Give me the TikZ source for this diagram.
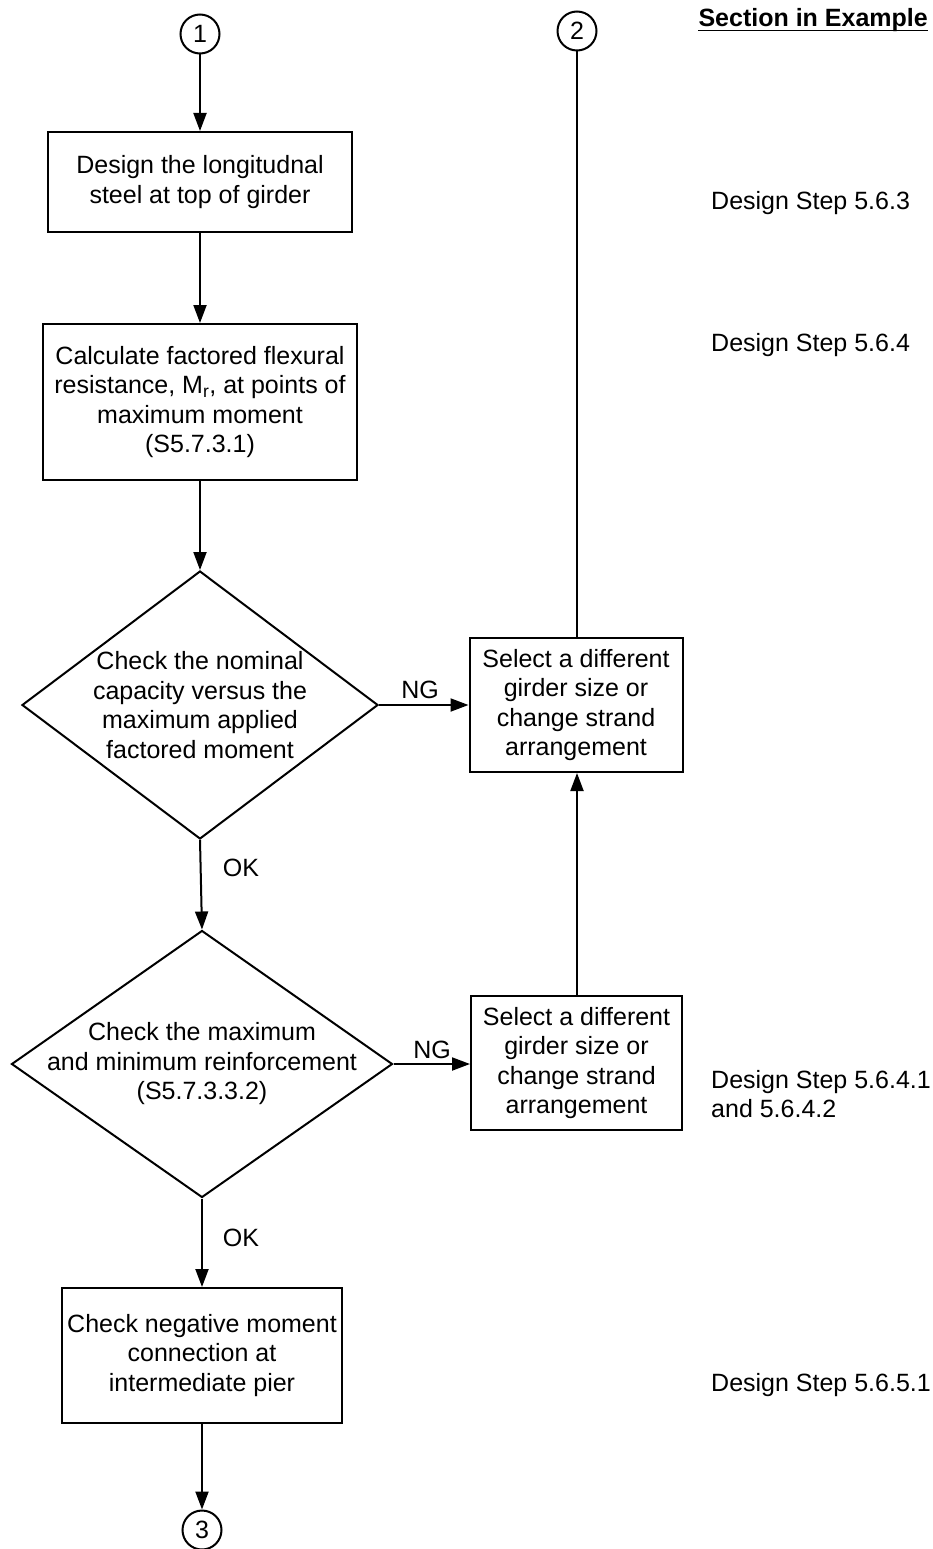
\documentclass[tikz,border=0pt]{standalone}
\usepackage{fontspec}
\setmainfont{Liberation Sans}
\usetikzlibrary{shapes.geometric,arrows.meta}
\begin{document}
\begin{tikzpicture}[x=1pt,y=-1pt,
  every node/.style={font=\fontsize{25}{29.5}\selectfont},
  box/.style={draw, line width=2pt, inner sep=0pt, align=center},
  dia/.style={draw, diamond, line width=2pt, inner sep=0pt},
  conn/.style={draw, circle, line width=2pt, inner sep=0pt, minimum size=39pt},
  arr/.style={line width=2pt, -{Triangle[width=13pt,length=18pt]}},
  lbl/.style={inner sep=0pt},
  side/.style={anchor=west, inner sep=0pt, align=left}]
\useasboundingbox (0,0) rectangle (933,1549);

\node[conn] (c1) at (200,34) {1};
\node[conn] (c2) at (577,31) {2};
\node[conn] (c3) at (202,1530) {3};

\node[box, minimum width=304pt, minimum height=100pt] (b1) at (200,182)
  {Design the longitudnal\\steel at top of girder};
\node[box, minimum width=314pt, minimum height=156pt] (b2) at (200,402)
  {Calculate factored flexural\\resistance, M\textsubscript{r}, at points of\\maximum moment\\(S5.7.3.1)};
\node[dia, minimum width=356pt, minimum height=268pt] (d1) at (200,705) {};
\node[lbl, align=center] (d1t) at (d1.center)
  {Check the nominal\\capacity versus the\\maximum applied\\factored moment};
\node[dia, minimum width=381pt, minimum height=267pt] (d2) at (202,1064) {};
\node[lbl, align=center] (d2t) at (d2.center)
  {Check the maximum\\and minimum reinforcement\\(S5.7.3.3.2)};
\node[box, minimum width=280pt, minimum height=135pt] (b5) at (202,1355.5)
  {Check negative moment\\connection at\\intermediate pier};
\node[box, minimum width=213pt, minimum height=134pt] (n1) at (576,705)
  {Select a different\\girder size or\\change strand\\arrangement};
\node[box, minimum width=211pt, minimum height=134pt] (n2) at (576.5,1063)
  {Select a different\\girder size or\\change strand\\arrangement};

\draw[arr] (c1) -- (b1);
\draw[arr] (b1) -- (b2);
\draw[arr] (b2) -- (d1.north);
\draw[arr] (d1.south) -- (d2.north);
\draw[arr] (d2.south) -- (b5);
\draw[arr] (b5) -- (c3);
\draw[arr] (d1.east) -- (n1.west |- d1.east);
\draw[arr] (d2.east) -- (n2.west |- d2.east);
\draw[arr] (n2.north -| c2.south) -- (n1.south -| c2.south);
\draw[line width=2pt] (n1.north -| c2.south) -- (c2.south);

\node[lbl] (ng1) at (420,690) {NG};
\node[lbl] (ng2) at (432,1050) {NG};
\node[lbl] (ok1) at (241,868) {OK};
\node[lbl] (ok2) at (241,1238) {OK};

\node[lbl, anchor=east] (hdr) at (928,20) {\textbf{Section in Example}};
\draw[line width=1.8pt] ([yshift=-4pt]hdr.base west) -- ([yshift=-4pt]hdr.base east);

\node[side] (s1) at (711,203) {Design Step 5.6.3};
\node[side] (s2) at (711,345) {Design Step 5.6.4};
\node[side] (s3) at (711,1094) {Design Step 5.6.4.1\\and 5.6.4.2};
\node[side] (s4) at (711,1385) {Design Step 5.6.5.1};
\end{tikzpicture}
\end{document}
